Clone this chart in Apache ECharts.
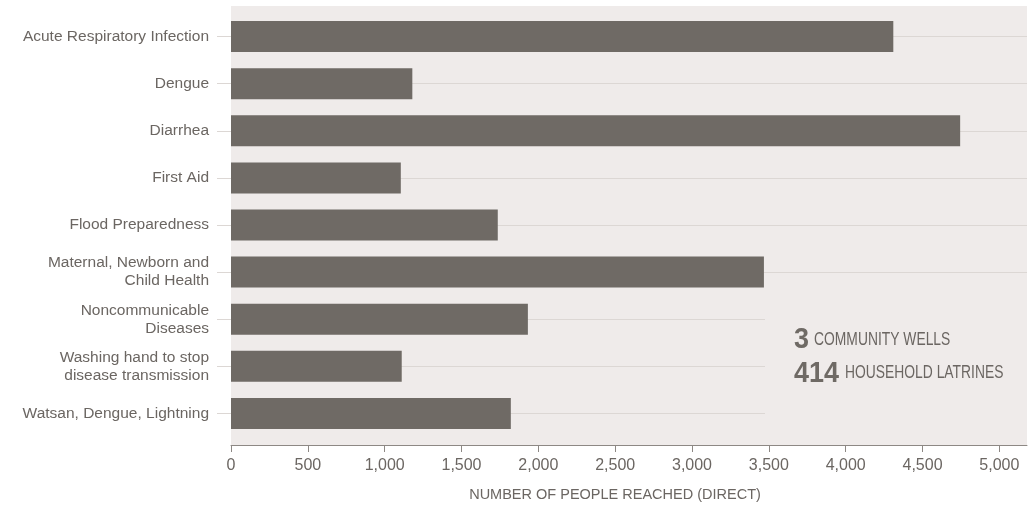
<!DOCTYPE html>
<html>
<head>
<meta charset="utf-8">
<script src="https://cdn.jsdelivr.net/npm/echarts@6/dist/echarts.min.js"></script>
<style>
  html, body { margin: 0; padding: 0; background: #fff; }
  #chart { width: 1033px; height: 508px; }
</style>
</head>
<body>
<div id="chart"></div>
<script>
const categories = [
  "Acute Respiratory Infection",
  "Dengue",
  "Diarrhea",
  "First Aid",
  "Flood Preparedness",
  "Maternal, Newborn and\nChild Health",
  "Noncommunicable\nDiseases",
  "Washing hand to stop\ndisease transmission",
  "Watsan, Dengue, Lightning"
];
const reached = [4310, 1180, 4745, 1105, 1736, 3468, 1932, 1111, 1821];
const ticks = [0, 500, 1000, 1500, 2000, 2500, 3000, 3500, 4000, 4500, 5000];
const wells = 3;
const latrines = 414;

const FONT = "'Liberation Sans', Arial, sans-serif";
const TEXT = "#6b6662";
const BAR = "#6f6a65";
const BG = "#efebea";

const chart = echarts.init(document.getElementById("chart"), null, { renderer: "canvas" });

// condensed-looking annotation text (no condensed font installed)
const note = (x, y, text, font, fill, sx) => ({
  type: "text", z: 51, silent: true, x: x, y: y, scaleX: sx,
  style: { text: text, font: font, fill: fill, verticalAlign: "middle", align: "left" }
});

const option = {
  backgroundColor: "#fff",
  animation: false,
  textStyle: { fontFamily: FONT, color: TEXT },
  grid: { left: 231, right: 6, top: 13, bottom: 71, containLabel: false },
  graphic: [
    // plot background, runs a bit past the category band
    { type: "rect", z: -10, silent: true,
      shape: { x: 231, y: 6, width: 796, height: 440 },
      style: { fill: BG } },
    // annotation box hides the gridlines under it
    { type: "rect", z: 50, silent: true,
      shape: { x: 765, y: 290, width: 262, height: 150 },
      style: { fill: BG } },
    note(794, 340, String(wells), "bold 29px " + FONT, BAR, 0.93),
    note(814, 340, "COMMUNITY WELLS", "18px " + FONT, TEXT, 0.77),
    note(794, 374, String(latrines), "bold 29px " + FONT, BAR, 0.93),
    note(845, 373, "HOUSEHOLD LATRINES", "18px " + FONT, TEXT, 0.77)
  ],
  xAxis: {
    type: "value",
    min: 0,
    max: 5180,
    offset: 8,
    name: "NUMBER OF PEOPLE REACHED (DIRECT)",
    nameLocation: "middle",
    nameGap: 42,
    nameTextStyle: { fontFamily: FONT, fontSize: 14.5, color: TEXT, padding: [0, 28, 0, 0] },
    axisLine: { show: true, lineStyle: { color: "#8d8884", width: 1 } },
    axisTick: { show: true, length: 7, customValues: ticks, lineStyle: { color: "#8d8884" } },
    axisLabel: {
      customValues: ticks,
      margin: 13,
      fontFamily: FONT,
      fontSize: 16,
      color: TEXT,
      formatter: (v) => v.toLocaleString("en-US")
    },
    splitLine: { show: false }
  },
  yAxis: {
    type: "category",
    data: categories,
    inverse: true,
    axisLine: { show: false },
    axisTick: { show: true, inside: false, length: 14, alignWithLabel: true,
      lineStyle: { color: "#dcd7d4" } },
    axisLabel: {
      margin: 22,
      fontFamily: FONT,
      fontSize: 15.5,
      lineHeight: 18,
      color: TEXT,
      align: "right"
    },
    splitLine: { show: true, alignWithLabel: true, lineStyle: { color: "#dcd7d4", width: 1 } }
  },
  series: [
    {
      type: "bar",
      data: reached,
      barWidth: 31,
      itemStyle: { color: BAR },
      z: 5
    }
  ]
};

chart.setOption(option);
</script>
</body>
</html>
